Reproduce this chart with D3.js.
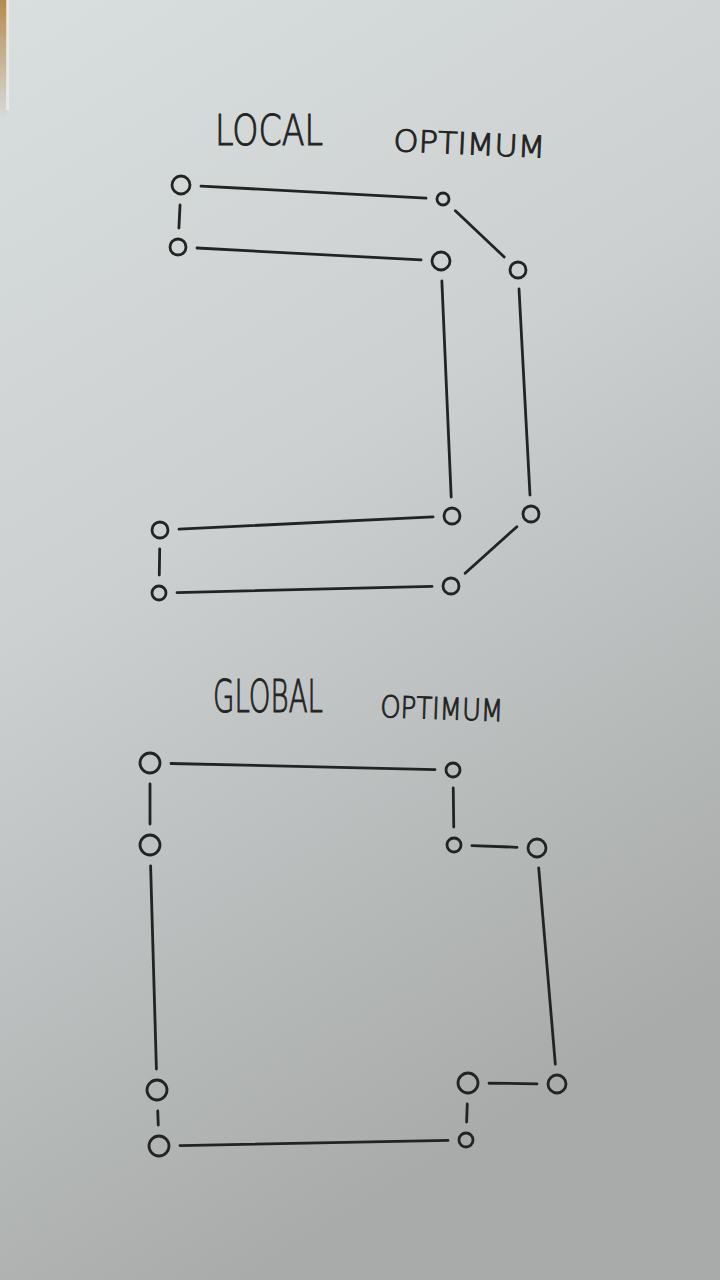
<!DOCTYPE html>
<html><head><meta charset="utf-8">
<script src="https://cdn.jsdelivr.net/npm/d3@7/dist/d3.min.js"></script>
<style>html,body{margin:0;padding:0;background:#c8cccc;}svg{display:block;}</style>
</head><body>
<svg id="c" width="720" height="1280"></svg>
<script>
// ---- data (sketch units: pixel-like grid 0..720 x 0..1280) ----
const localNodesX = [181, 178, 443, 441, 518, 452, 531, 160, 159, 451];
const localNodesY = [185, 247, 199, 261, 270, 516, 514, 530, 593, 586];
const localNodesR = [9, 8, 6, 9, 8, 8, 8, 8, 7, 8];
const localTour   = [0, 2, 4, 6, 9, 8, 7, 5, 3, 1];

const globalNodesX = [150, 150, 453, 454, 537, 557, 468, 466, 157, 159];
const globalNodesY = [763, 845, 770, 845, 848, 1084, 1083, 1140, 1090, 1146];
const globalNodesR = [10, 10, 7, 7, 9, 9, 10, 7, 10, 10];
const globalTour   = [0, 2, 3, 4, 5, 6, 7, 9, 8, 1];

const titleWords = ["LOCAL", "OPTIMUM", "GLOBAL", "OPTIMUM"];

// ---- scales ----
const W = 720, H = 1280;
const x = d3.scaleLinear().domain([0, 720]).range([0, W]);
const y = d3.scaleLinear().domain([0, 1280]).range([0, H]);

const svg = d3.select("#c");
const defs = svg.append("defs");
const bg = defs.append("linearGradient").attr("id","bg").attr("x1",0).attr("y1",0).attr("x2",0.35).attr("y2",1);
bg.append("stop").attr("offset","0%").attr("stop-color","#d9dfde");
bg.append("stop").attr("offset","45%").attr("stop-color","#ccd0d0");
bg.append("stop").attr("offset","100%").attr("stop-color","#a8abaa");
svg.append("rect").attr("width",W).attr("height",H).attr("fill","url(#bg)");
// wooden table edge at upper left
const wood = defs.append("linearGradient").attr("id","wood").attr("x1",0).attr("y1",0).attr("x2",0).attr("y2",1);
wood.append("stop").attr("offset","0%").attr("stop-color","#b58a52").attr("stop-opacity",1);
wood.append("stop").attr("offset","100%").attr("stop-color","#b58a52").attr("stop-opacity",0);
svg.append("rect").attr("x",0).attr("y",0).attr("width",7).attr("height",120).attr("fill","url(#wood)");
svg.append("rect").attr("x",6).attr("y",0).attr("width",3).attr("height",110).attr("fill","#eef0ec").attr("opacity",0.7);

const ink = "#222424";
const GAP = 11;

function drawGraph(xs, ys, rs, tour) {
  const nodes = xs.map((v,i)=>({x:x(v), y:y(ys[i]), r:rs[i]}));
  const g = svg.append("g");
  const edges = tour.map((a,i)=>{
    const p = nodes[a], q = nodes[tour[(i+1)%tour.length]];
    const dx = q.x-p.x, dy = q.y-p.y, L = Math.hypot(dx,dy);
    return {x1:p.x+dx/L*(p.r+GAP), y1:p.y+dy/L*(p.r+GAP), x2:q.x-dx/L*(q.r+GAP), y2:q.y-dy/L*(q.r+GAP)};
  });
  g.selectAll("line").data(edges).join("line")
    .attr("x1", d=>d.x1).attr("y1", d=>d.y1).attr("x2", d=>d.x2).attr("y2", d=>d.y2)
    .attr("stroke", ink).attr("stroke-width", 2.8).attr("stroke-linecap","round");
  g.selectAll("circle").data(nodes).join("circle")
    .attr("cx", d=>d.x).attr("cy", d=>d.y).attr("r", d=>d.r)
    .attr("fill","none").attr("stroke", ink).attr("stroke-width", 2.8);
}
drawGraph(localNodesX, localNodesY, localNodesR, localTour);
drawGraph(globalNodesX, globalNodesY, globalNodesR, globalTour);

// ---- titles ----
const titles = [
  {t:titleWords[0], x:215, y:145, size:42, len:108, rot:0},
  {t:titleWords[1], x:393, y:151, size:30, len:152, rot:2.5},
  {t:titleWords[2], x:213, y:712, size:44, len:110, rot:0},
  {t:titleWords[3], x:380, y:717, size:30, len:123, rot:2}
];
svg.selectAll("text.title").data(titles).join("text").attr("class","title")
  .attr("x", d=>x(d.x)).attr("y", d=>y(d.y))
  .attr("transform", d=>`rotate(${d.rot},${x(d.x)},${y(d.y)})`)
  .attr("font-family","DejaVu Sans").attr("font-weight",200)
  .attr("font-size", d=>d.size)
  .attr("textLength", d=>d.len).attr("lengthAdjust","spacingAndGlyphs")
  .attr("fill", ink).attr("stroke", ink).attr("stroke-width", 1)
  .text(d=>d.t);
</script>
</body></html>
